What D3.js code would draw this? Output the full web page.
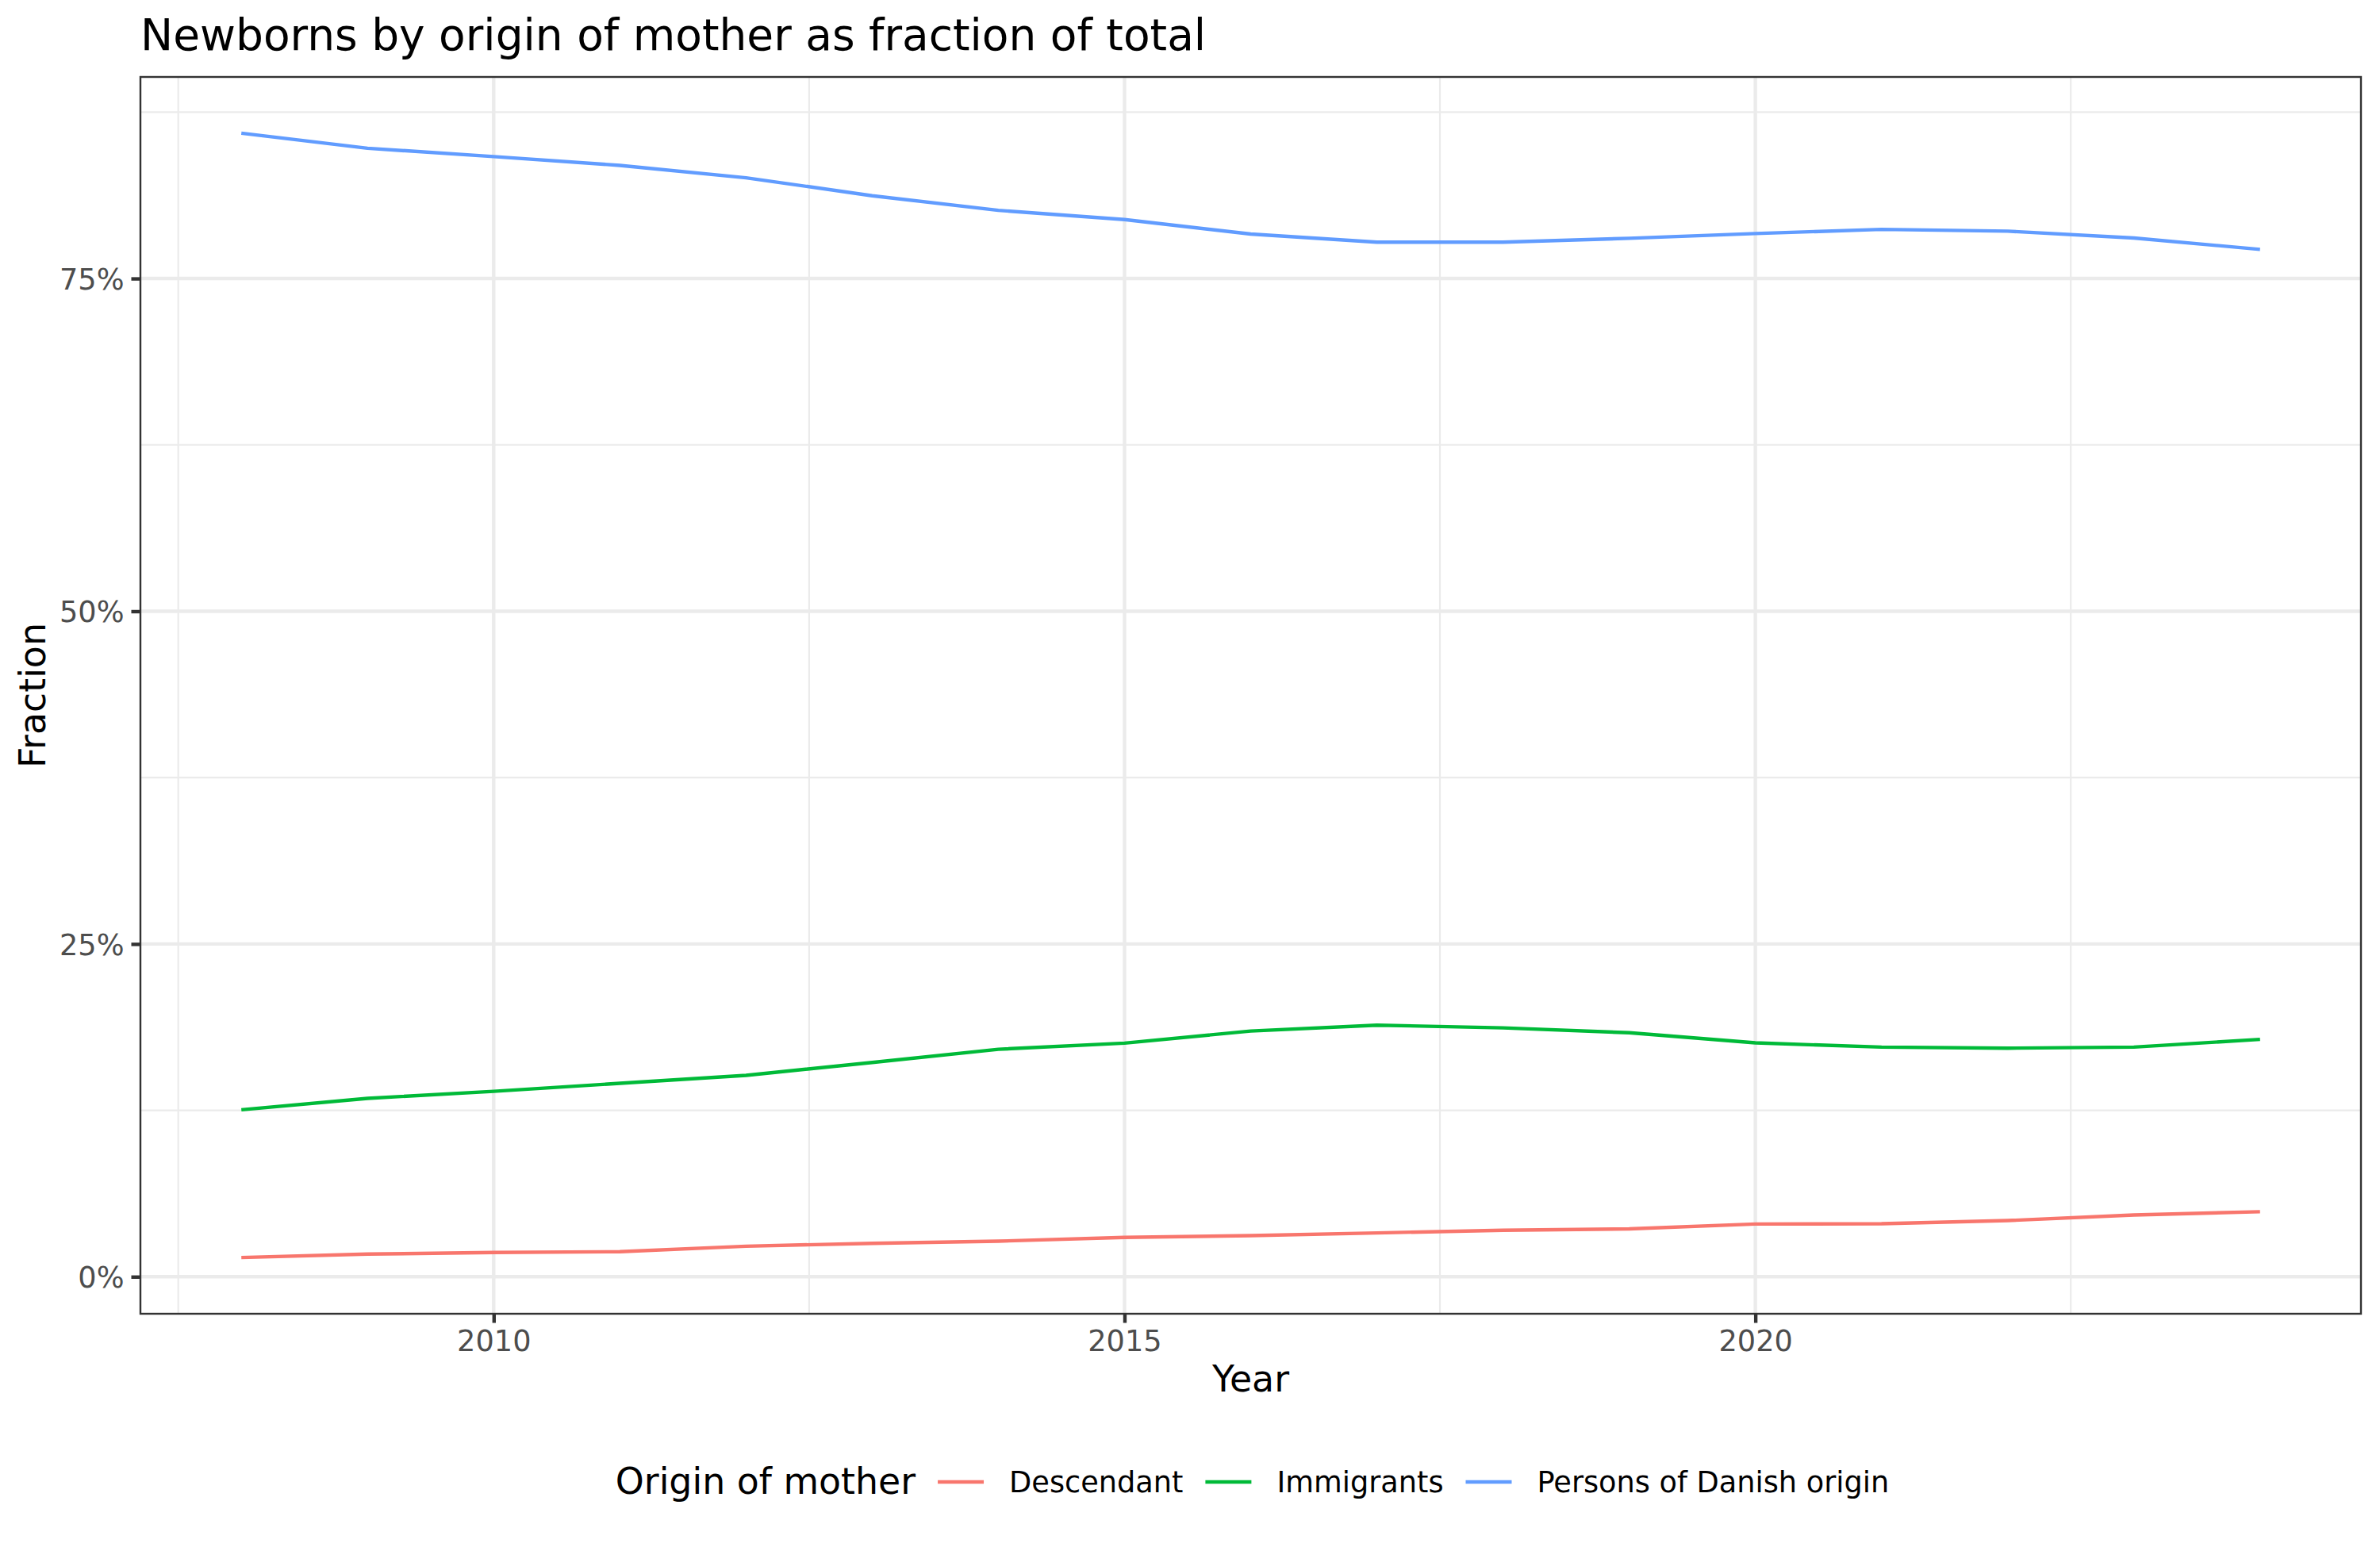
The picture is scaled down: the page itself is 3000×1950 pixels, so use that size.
<!DOCTYPE html>
<html>
<head>
<meta charset="utf-8">
<script src="https://cdn.jsdelivr.net/npm/d3@7"></script>
<style>
  html, body { margin: 0; padding: 0; background: #ffffff; }
  svg { display: block; font-family: "DejaVu Sans", sans-serif; }
</style>
</head>
<body>
<svg id="chart" width="3000" height="1950"></svg>
<script>
// ---- Data ----
const years = [2008, 2009, 2010, 2011, 2012, 2013, 2014, 2015, 2016, 2017, 2018, 2019, 2020, 2021, 2022, 2023, 2024];
const descendant = [0.0144, 0.0170, 0.0182, 0.0188, 0.0229, 0.0251, 0.0267, 0.0295, 0.0309, 0.0329, 0.0349, 0.0359, 0.0396, 0.0398, 0.0422, 0.0464, 0.0488];
const immigrants = [0.1254, 0.1340, 0.1393, 0.1453, 0.1513, 0.1610, 0.1709, 0.1755, 0.1846, 0.1890, 0.1870, 0.1833, 0.1757, 0.1725, 0.1717, 0.1725, 0.1783];
const danish = [0.8592, 0.8479, 0.8416, 0.8350, 0.8257, 0.8122, 0.8012, 0.7943, 0.7834, 0.7773, 0.7773, 0.7802, 0.7838, 0.7869, 0.7856, 0.7804, 0.7719];
const seriesNames = ["Descendant", "Immigrants", "Persons of Danish origin"];
const seriesColors = ["#F8766D", "#00BA38", "#619CFF"];
const xTicks = [2010, 2015, 2020];
const xMinor = [2007.5, 2012.5, 2017.5, 2022.5];
const yTicks = [0, 0.25, 0.5, 0.75];
const yMinor = [0.125, 0.375, 0.625, 0.875];
const titleText = "Newborns by origin of mother as fraction of total";
const xTitle = "Year";
const yTitle = "Fraction";
const legendTitle = "Origin of mother";

const seriesValues = [descendant, immigrants, danish];
const series = seriesNames.map((name, i) => ({
  name, color: seriesColors[i],
  points: years.map((y, j) => ({ year: y, value: seriesValues[i][j] }))
}));

// ---- Layout ----
const W = 3000, H = 1950;
const panel = { left: 177, right: 2976, top: 97, bottom: 1656 };
const svg = d3.select("#chart");
svg.append("rect").attr("width", W).attr("height", H).attr("fill", "#ffffff");

// scales with ggplot-like 5% expansion
function expand(ext) { const r = ext[1] - ext[0]; return [ext[0] - 0.05 * r, ext[1] + 0.05 * r]; }
const x = d3.scaleLinear().domain(expand(d3.extent(years))).range([panel.left, panel.right]);
const allVals = [].concat(descendant, immigrants, danish);
const y = d3.scaleLinear().domain(expand(d3.extent(allVals))).range([panel.bottom, panel.top]);

const grid = svg.append("g");
const gridColor = "#EBEBEB";
// minor grid
grid.selectAll(".xminor").data(xMinor).join("line")
  .attr("x1", d => x(d)).attr("x2", d => x(d))
  .attr("y1", panel.top).attr("y2", panel.bottom)
  .attr("stroke", gridColor).attr("stroke-width", 2.2);
grid.selectAll(".yminor").data(yMinor).join("line")
  .attr("x1", panel.left).attr("x2", panel.right)
  .attr("y1", d => y(d)).attr("y2", d => y(d))
  .attr("stroke", gridColor).attr("stroke-width", 2.2);
// major grid
grid.selectAll(".xmajor").data(xTicks).join("line")
  .attr("x1", d => x(d)).attr("x2", d => x(d))
  .attr("y1", panel.top).attr("y2", panel.bottom)
  .attr("stroke", gridColor).attr("stroke-width", 4.4);
grid.selectAll(".ymajor").data(yTicks).join("line")
  .attr("x1", panel.left).attr("x2", panel.right)
  .attr("y1", d => y(d)).attr("y2", d => y(d))
  .attr("stroke", gridColor).attr("stroke-width", 4.4);

// lines
const line = d3.line().x(d => x(d.year)).y(d => y(d.value));
svg.append("g").selectAll("path").data(series).join("path")
  .attr("d", d => line(d.points))
  .attr("fill", "none")
  .attr("stroke", d => d.color)
  .attr("stroke-width", 4.4)
  .attr("stroke-linejoin", "round");

// panel border
svg.append("rect")
  .attr("x", panel.left).attr("y", panel.top)
  .attr("width", panel.right - panel.left).attr("height", panel.bottom - panel.top)
  .attr("fill", "none").attr("stroke", "#333333").attr("stroke-width", 2.4);

// axes
const tickLen = 11.5;
const xAxis = d3.axisBottom(x).tickValues(xTicks).tickFormat(d3.format("d")).tickSizeInner(tickLen).tickSizeOuter(0).tickPadding(9);
const gx = svg.append("g").attr("transform", `translate(0,${panel.bottom})`).call(xAxis);
gx.select(".domain").remove();
gx.selectAll(".tick line").attr("stroke", "#333333").attr("stroke-width", 4.4);
gx.selectAll(".tick text").attr("fill", "#4D4D4D").attr("font-size", 36.7)
  .attr("font-family", "DejaVu Sans").attr("dy", null).attr("y", 47);

const yAxis = d3.axisLeft(y).tickValues(yTicks).tickFormat(d3.format(".0%")).tickSizeInner(tickLen).tickSizeOuter(0).tickPadding(9);
const gy = svg.append("g").attr("transform", `translate(${panel.left},0)`).call(yAxis);
gy.select(".domain").remove();
gy.selectAll(".tick line").attr("stroke", "#333333").attr("stroke-width", 4.4);
gy.selectAll(".tick text").attr("fill", "#4D4D4D").attr("font-size", 36.7)
  .attr("font-family", "DejaVu Sans").attr("x", -20.5).attr("dy", "0.36em");

// titles
svg.append("text").attr("x", panel.left).attr("y", 62.5)
  .attr("font-size", 55).attr("fill", "#000000").text(titleText);
svg.append("text").attr("x", (panel.left + panel.right) / 2).attr("y", 1754)
  .attr("text-anchor", "middle").attr("font-size", 45.8).attr("fill", "#000000").text(xTitle);
svg.append("text").attr("transform", `translate(57,${(panel.top + panel.bottom) / 2}) rotate(-90)`)
  .attr("text-anchor", "middle").attr("font-size", 45.8).attr("fill", "#000000").text(yTitle);

// legend (horizontal, bottom)
const legend = svg.append("g");
const legY = 1883;      // baseline of legend title
const keyY = 1868;      // vertical centre of key lines
const keyW = 58;
const lt = legend.append("text").attr("x", 0).attr("y", legY)
  .attr("font-size", 45.8).attr("fill", "#000000").text(legendTitle);
let cx = lt.node().getComputedTextLength() + 28;
series.forEach((s, i) => {
  legend.append("line").attr("x1", cx).attr("x2", cx + keyW)
    .attr("y1", keyY).attr("y2", keyY)
    .attr("stroke", s.color).attr("stroke-width", 4.4);
  cx += keyW + 32;
  const t = legend.append("text").attr("x", cx).attr("y", legY - 2)
    .attr("font-size", 36.7).attr("fill", "#000000").text(s.name);
  cx += t.node().getComputedTextLength();
  if (i < series.length - 1) cx += 28;
});
const legCenter = (panel.left + panel.right) / 2 + 2;
legend.attr("transform", `translate(${legCenter - cx / 2},0)`);
</script>
</body>
</html>
